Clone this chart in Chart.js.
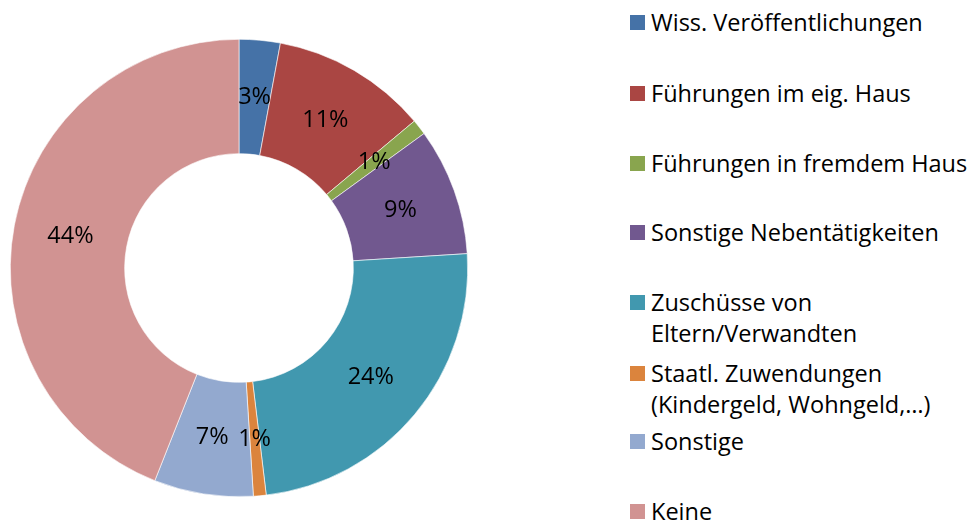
<!DOCTYPE html>
<html>
<head>
<meta charset="utf-8">
<script src="https://cdn.jsdelivr.net/npm/chart.js@4"></script>
<style>
    body { margin: 0; background: #fff; }
    #wrap { position: relative; width: 968px; height: 524px; }
    #pie { position: absolute; left: 0; top: 0; }
    #legend { position: absolute; left: 630px; top: 0; font-family: 'Open Sans', sans-serif; font-size: 23.5px; color: #000; }
    .item { position: absolute; left: 0; white-space: nowrap; line-height: 31px; }
    .box { position: absolute; left: 0; width: 15px; height: 15px; }
    .txt { position: absolute; left: 21px; }
</style>
</head>
<body>
<div id="wrap">
    <canvas id="pie" width="480" height="524"></canvas>
    <div id="legend"></div>
</div>
<script>
const categories = [
    'Wiss. Veröffentlichungen',
    'Führungen im eig. Haus',
    'Führungen in fremdem Haus',
    'Sonstige Nebentätigkeiten',
    'Zuschüsse von\nEltern/Verwandten',
    'Staatl. Zuwendungen\n(Kindergeld, Wohngeld,…)',
    'Sonstige',
    'Keine'
];
const shares = [2.9, 11.0, 1.1, 9.0, 24.1, 0.9, 7.0, 44.0];
const colors = ['#4572A7', '#AA4643', '#89A54E', '#71588F', '#4198AF', '#DB843D', '#93A9CF', '#D19392'];
// top of each legend row (first line)
const legendRows = [7, 78, 148, 217, 287, 358, 426, 496];

// legend, built by hand so the spacing matches the original
const legend = document.getElementById('legend');
categories.forEach((label, i) => {
    const item = document.createElement('div');
    item.className = 'item';
    item.style.top = legendRows[i] + 'px';
    const box = document.createElement('div');
    box.className = 'box';
    box.style.top = '8px';
    box.style.background = colors[i];
    const txt = document.createElement('div');
    txt.className = 'txt';
    txt.innerHTML = label.split('\n').join('<br>');
    item.appendChild(box);
    item.appendChild(txt);
    legend.appendChild(item);
});

const percentLabels = {
    id: 'percentLabels',
    afterDatasetsDraw(chart) {
        const ctx = chart.ctx;
        const meta = chart.getDatasetMeta(0);
        const data = chart.data.datasets[0].data;
        const total = data.reduce((a, b) => a + b, 0);
        ctx.save();
        ctx.font = "23.5px 'Open Sans', sans-serif";
        ctx.fillStyle = '#000';
        ctx.textAlign = 'center';
        ctx.textBaseline = 'middle';
        meta.data.forEach((arc, i) => {
            const pos = arc.tooltipPosition();
            ctx.fillText(Math.round(data[i] / total * 100) + '%', pos.x, pos.y);
        });
        ctx.restore();
    }
};

new Chart(document.getElementById('pie'), {
    type: 'doughnut',
    data: {
        labels: categories,
        datasets: [{
            data: shares,
            backgroundColor: colors,
            borderColor: '#ffffff',
            borderWidth: 0.6
        }]
    },
    options: {
        responsive: false,
        animation: false,
        cutout: '50%',
        layout: { padding: { top: 39, bottom: 27, left: 10, right: 12 } },
        plugins: {
            legend: { display: false },
            tooltip: { enabled: false }
        }
    },
    plugins: [percentLabels]
});
</script>
</body>
</html>
